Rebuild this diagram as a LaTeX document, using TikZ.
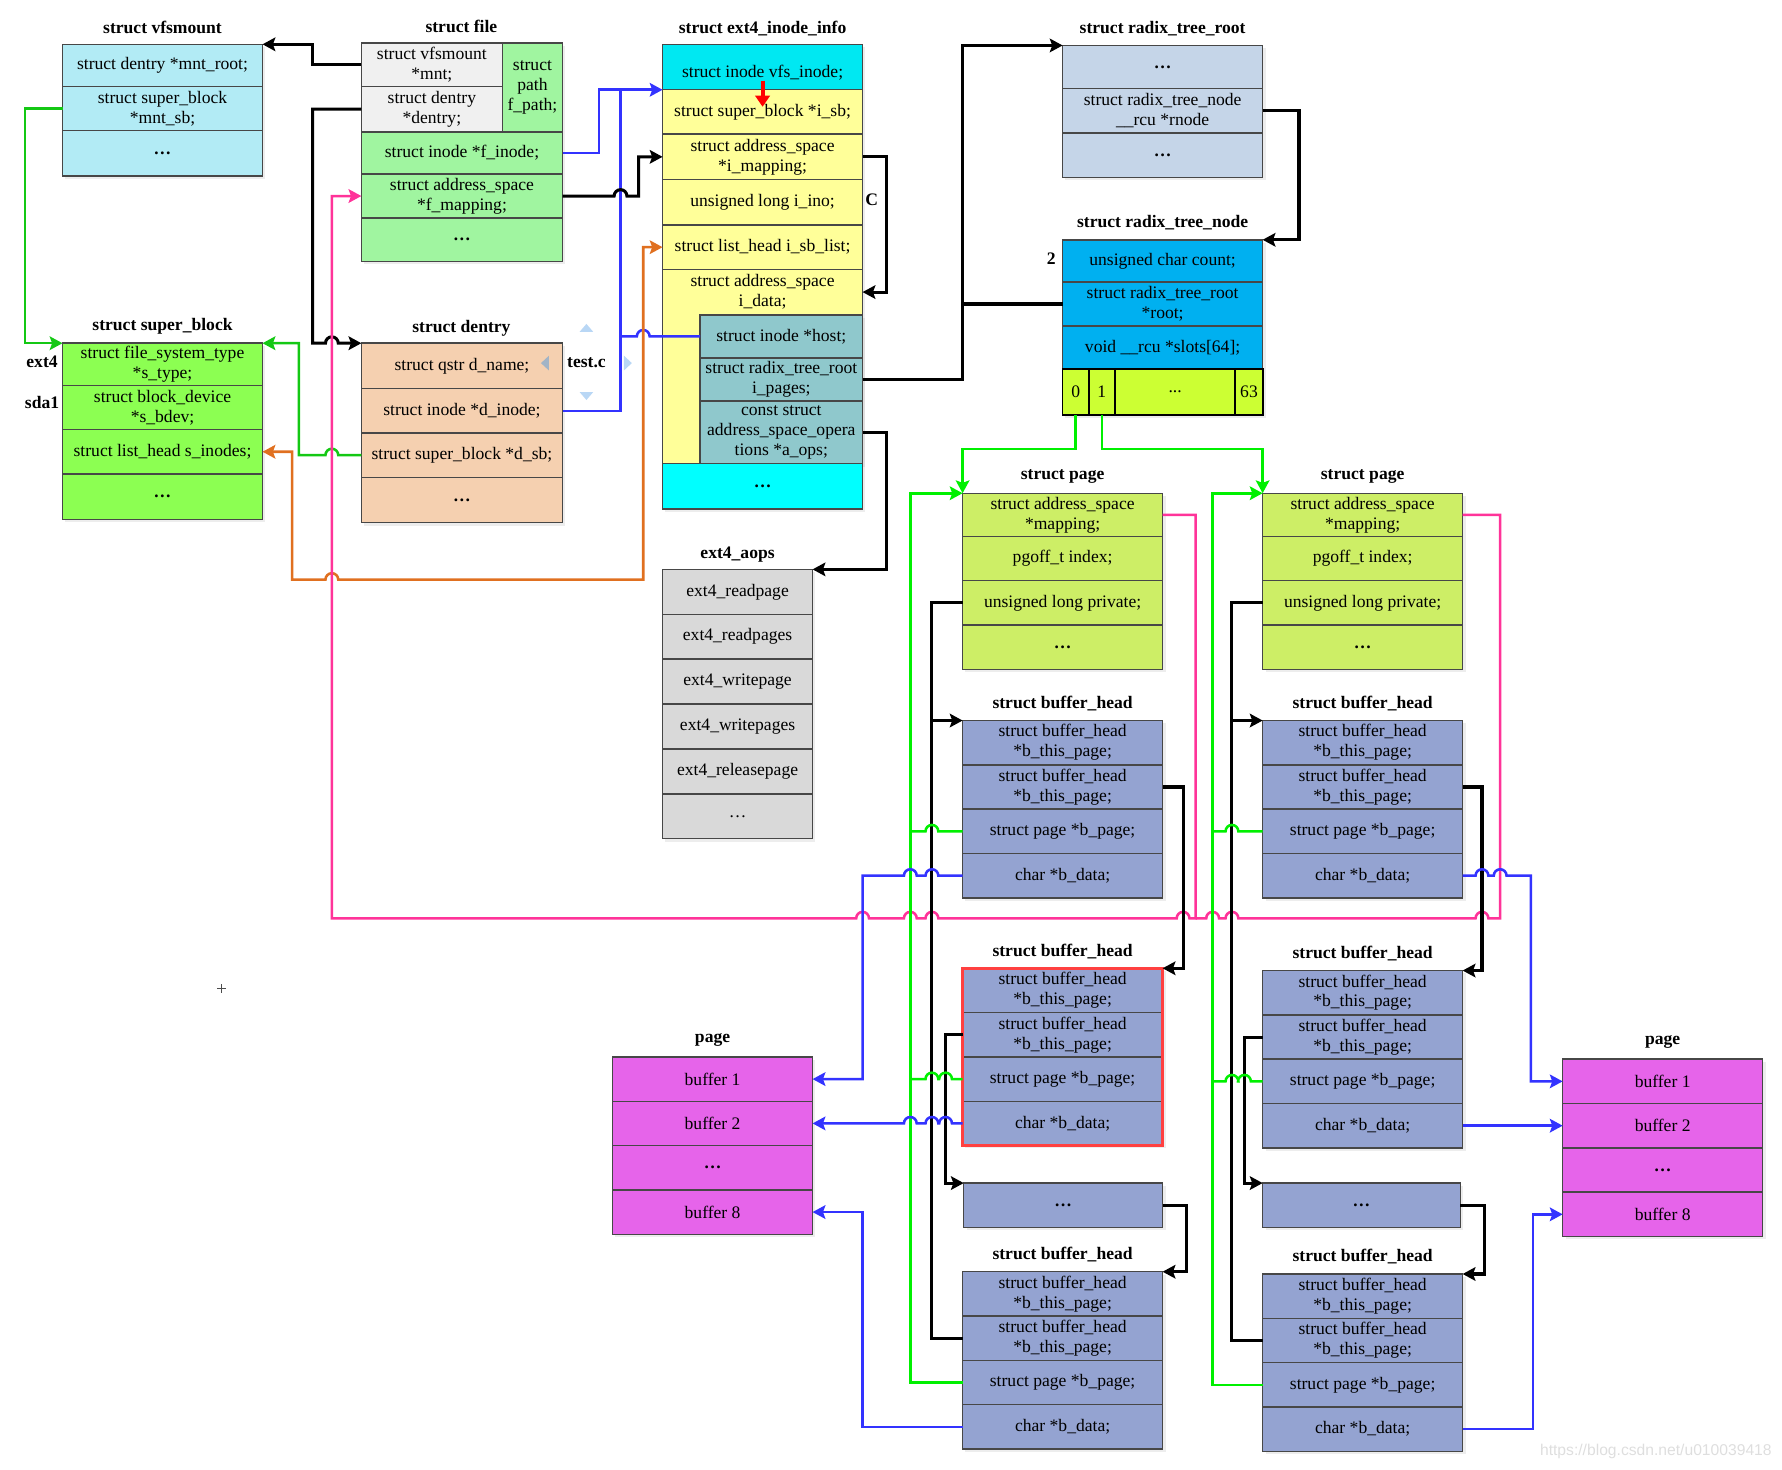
\documentclass[tikz,border=0pt]{standalone}
\usepackage{fontspec}
\setmainfont{Liberation Serif}
\newfontfamily\wmfont{Liberation Sans}
\usetikzlibrary{arrows.meta,shadows}

\definecolor{vfsc}{RGB}{178,235,245}
\definecolor{flgray}{RGB}{240,240,240}
\definecolor{flgrn}{RGB}{160,245,160}
\definecolor{sbgrn}{RGB}{140,255,82}
\definecolor{dentc}{RGB}{245,208,176}
\definecolor{inocyan}{RGB}{0,232,242}
\definecolor{inocyan2}{RGB}{0,255,255}
\definecolor{inoyel}{RGB}{255,255,153}
\definecolor{inoteal}{RGB}{143,200,204}
\definecolor{rtroot}{RGB}{197,213,232}
\definecolor{rtnode}{RGB}{0,176,240}
\definecolor{slotc}{RGB}{204,255,51}
\definecolor{aopsc}{RGB}{217,217,217}
\definecolor{pagec}{RGB}{205,238,102}
\definecolor{bhc}{RGB}{148,163,209}
\definecolor{bufc}{RGB}{230,100,234}
\definecolor{lnblue}{RGB}{51,51,255}
\definecolor{lngreen}{RGB}{20,200,20}
\definecolor{lnlime}{RGB}{0,240,0}
\definecolor{lnpink}{RGB}{255,51,153}
\definecolor{lnorange}{RGB}{224,112,32}
\definecolor{lnred}{RGB}{255,64,64}
\definecolor{hint}{RGB}{185,215,245}

% one field of a struct: name, x, y, width, height, style, text
\newcommand{\fld}[7]{\node[cell,#6,minimum width=#4*0.025cm,minimum height=#5*0.025cm] (#1) at ({#2+#4/2},{#3+#5/2}) {#7};}
% line jumps over a vertical line
\newcommand{\hopR}[2]{-- ([xshift=-4pt]#1,#2) arc[start angle=180,end angle=0,radius=4pt]}
\newcommand{\hopL}[2]{-- ([xshift=4pt]#1,#2) arc[start angle=0,end angle=180,radius=4pt]}
\newcommand{\mdots}{\textbf{\ldots}}

\begin{document}
\begin{tikzpicture}[x=0.025cm,y=-0.025cm,
                    font=\fontsize{11}{12.5}\selectfont,
                    >={Stealth[length=8pt,width=8.5pt,inset=1.5pt]},
                    cell/.style={draw=black!72, line width=0.9pt, align=center, inner sep=1pt, outer sep=0pt,
                                 drop shadow={shadow xshift=1.8pt, shadow yshift=-1.8pt, opacity=0.14}},
                    ttl/.style={font=\fontsize{11}{12.5}\selectfont\bfseries},
                    vfsbox/.style={fill=vfsc}, flgrey/.style={fill=flgray}, flbox/.style={fill=flgrn},
                    sbbox/.style={fill=sbgrn}, debox/.style={fill=dentc},
                    incyan/.style={fill=inocyan}, inyel/.style={fill=inoyel}, inteal/.style={fill=inoteal},
                    rrbox/.style={fill=rtroot}, rnbox/.style={fill=rtnode},
                    slotbox/.style={fill=slotc, draw=black, line width=1.1pt},
                    aopsbox/.style={fill=aopsc}, pgbox/.style={fill=pagec},
                    bhbox/.style={fill=bhc}, bufbox/.style={fill=bufc},
                    blk/.style={draw=black, line width=1.9pt},
                    blu/.style={draw=lnblue, line width=1.6pt},
                    grn/.style={draw=lngreen, line width=1.6pt},
                    lim/.style={draw=lnlime, line width=1.6pt},
                    pnk/.style={draw=lnpink, line width=1.6pt},
                    org/.style={draw=lnorange, line width=1.6pt}
                ]
\useasboundingbox (0,0) rectangle (1568,1293);

% struct vfsmount
\node[ttl] (vfs-t) at (143,24) {struct vfsmount};
\fld{vfs1}{55}{39}{176}{37}{vfsbox}{struct dentry *mnt\_root;}
\fld{vfs2}{55}{76}{176}{39}{vfsbox}{struct super\_block\\*mnt\_sb;}
\fld{vfs3}{55}{115}{176}{40}{vfsbox}{\mdots}

% struct file
\node[ttl] (fl-t) at (406,23) {struct file};
\fld{fl1}{318}{38}{124}{38}{flgrey}{struct vfsmount\\*mnt;}
\fld{fl2}{318}{76}{124}{40}{flgrey}{struct dentry\\*dentry;}
\fld{flp}{442}{38}{53}{78}{flbox}{struct\\path\\f\_path;}
\fld{fl3}{318}{116}{177}{37}{flbox}{struct inode *f\_inode;}
\fld{fl4}{318}{153}{177}{39}{flbox}{struct address\_space\\*f\_mapping;}
\fld{fl5}{318}{192}{177}{38}{flbox}{\mdots}

% struct super_block
\node[ttl] (sb-t) at (143,287) {struct super\_block};
\fld{sb1}{55}{302}{176}{37}{sbbox}{struct file\_system\_type\\*s\_type;}
\fld{sb2}{55}{339}{176}{39}{sbbox}{struct block\_device\\*s\_bdev;}
\fld{sb3}{55}{378}{176}{39}{sbbox}{struct list\_head s\_inodes;}
\fld{sb4}{55}{417}{176}{40}{sbbox}{\mdots}
\node[ttl] (ext4) at (37,318) {ext4};
\node[ttl] (sda1) at (37,354) {sda1};

% struct dentry
\node[ttl] (de-t) at (406,289) {struct dentry};
\fld{de1}{318}{302}{177}{40}{debox}{struct qstr d\_name;}
\fld{de2}{318}{342}{177}{39}{debox}{struct inode *d\_inode;}
\fld{de3}{318}{381}{177}{39}{debox}{struct super\_block *d\_sb;}
\fld{de4}{318}{420}{177}{40}{debox}{\mdots}
\node[ttl] (testc) at (516,319) {test.c};
\fill[hint] (510,292) -- (522,292) -- (516,285) -- cycle;
\fill[hint!60!gray] (483,313) -- (483,326) -- (476,319.5) -- cycle;
\fill[hint] (510,345) -- (522,345) -- (516,352) -- cycle;
\fill[hint] (549,313) -- (549,326) -- (556,319.5) -- cycle;

% struct ext4_inode_info
\node[ttl] (in-t) at (671,25) {struct ext4\_inode\_info};
\fld{in1}{583}{39}{176}{40}{incyan,text height=13pt,text depth=0pt}{struct inode vfs\_inode;}
\fld{in2}{583}{79}{176}{39}{inyel}{struct super\_block *i\_sb;}
\fld{in3}{583}{118}{176}{40}{inyel}{struct address\_space\\*i\_mapping;}
\fld{in4}{583}{158}{176}{40}{inyel}{unsigned long i\_ino;}
\fld{in5}{583}{198}{176}{39}{inyel}{struct list\_head i\_sb\_list;}
\fld{in6}{583}{237}{176}{171}{inyel}{}
\node[align=center] (in6t) at (671,257) {struct address\_space\\i\_data;};
\fld{in7}{616}{277}{143}{38}{inteal}{struct inode *host;}
\fld{in8}{616}{315}{143}{38}{inteal}{struct radix\_tree\_root\\i\_pages;}
\fld{in9}{616}{353}{143}{55}{inteal}{const struct\\address\_space\_opera\\tions *a\_ops;}
\fld{in10}{583}{408}{176}{40}{fill=inocyan2}{\mdots}
\node[ttl] (lblC) at (767,176) {C};
\coordinate (idata) at (759,257);
\coordinate (ra1) at (671,71);
\coordinate (ra2) at (671,94);
\draw[red, line width=2.6pt, -{Triangle[length=7pt,width=9pt]}] (ra1) -- (ra2);

% struct radix_tree_root
\node[ttl] (rr-t) at (1023,25) {struct radix\_tree\_root};
\fld{rr1}{935}{40}{176}{38}{rrbox}{\mdots}
\fld{rr2}{935}{78}{176}{39}{rrbox}{struct radix\_tree\_node\\\_\_rcu *rnode}
\fld{rr3}{935}{117}{176}{39}{rrbox}{\mdots}

% struct radix_tree_node
\node[ttl] (rn-t) at (1023,196) {struct radix\_tree\_node};
\fld{rn1}{935}{211}{176}{37}{rnbox}{unsigned char count;}
\fld{rn2}{935}{248}{176}{39}{rnbox}{struct radix\_tree\_root\\*root;}
\fld{rn3}{935}{287}{176}{38}{rnbox}{void \_\_rcu *slots[64];}
\fld{s0}{935}{325}{23}{40}{slotbox}{0}
\fld{s1}{958}{325}{23}{40}{slotbox}{1}
\fld{sdots}{981}{325}{106}{40}{slotbox}{...}
\fld{s63}{1087}{325}{24}{40}{slotbox}{63}
\node[ttl] (lbl2) at (925,228) {2};

% ext4_aops
\node[ttl] (ax-t) at (649,488) {ext4\_aops};
\foreach \t [count=\i] in {ext4\_readpage, ext4\_readpages, ext4\_writepage, ext4\_writepages, ext4\_releasepage, \ldots}{
  \fld{ax\i}{583}{501+(\i-1)*39.5}{132}{39.5}{aopsbox}{\t}
}

% struct page
\foreach \nm/\x in {pgA/847, pgB/1111}{
  \node[ttl] (\nm-t) at (\x+88,419) {struct page};
  \fld{\nm-1}{\x}{434}{176}{38}{pgbox}{struct address\_space\\*mapping;}
  \fld{\nm-2}{\x}{472}{176}{39}{pgbox}{pgoff\_t index;}
  \fld{\nm-3}{\x}{511}{176}{39}{pgbox}{unsigned long private;}
  \fld{\nm-4}{\x}{550}{176}{39}{pgbox}{\mdots}
}

% struct buffer_head
\foreach \nm/\x/\y in {bhA/847/634, bhB/847/852, bhC/847/1119, bhD/1111/634, bhE/1111/854, bhF/1111/1121}{
  \node[ttl] (\nm-t) at (\x+88,\y-15) {struct buffer\_head};
  \fld{\nm-1}{\x}{\y}{176}{39}{bhbox}{struct buffer\_head\\*b\_this\_page;}
  \fld{\nm-2}{\x}{\y+39}{176}{39}{bhbox}{struct buffer\_head\\*b\_this\_page;}
  \fld{\nm-3}{\x}{\y+78}{176}{39}{bhbox}{struct page *b\_page;}
  \fld{\nm-4}{\x}{\y+117}{176}{39}{bhbox}{char *b\_data;}
}
\draw[lnred, line width=2pt] (bhB-1.north west) rectangle (bhB-4.south east);
\fld{dA}{848}{1041}{175}{39}{bhbox}{\mdots}
\fld{dB}{1111}{1041}{174}{39}{bhbox}{\mdots}

% page buffers
\foreach \nm/\x/\y in {pbA/539/930, pbB/1375/932}{
  \node[ttl] (\nm-t) at (\x+88,\y-15) {page};
  \fld{\nm-1}{\x}{\y}{176}{39}{bufbox}{buffer 1}
  \fld{\nm-2}{\x}{\y+39}{176}{39}{bufbox}{buffer 2}
  \fld{\nm-3}{\x}{\y+78}{176}{39}{bufbox}{\mdots}
  \fld{\nm-4}{\x}{\y+117}{176}{39}{bufbox}{buffer 8}
}

% file, dentry, super_block links
\draw[blk,->] (fl1.west) -- (275,57) |- (vfs1.north east);
\draw[blk,->] (fl2.west) -- (275,96) -- (275,302) \hopR{292}{302} -- (de1.north west);
\draw[grn,->] (vfs2.west) -- (22,95.5) |- (sb1.north west);
\draw[grn,->] (de3.west) \hopL{292}{400.5} -- (263,400.5) |- (sb1.north east);
\draw[blu,->] (fl3.east) -- (527,134.5) |- (in1.south west);
\draw[blu] (de2.east) -| (546,79);
\draw[blu] (in7.west) \hopL{566}{296} -- (546,296);
\draw[blk,->] (fl4.east) \hopR{546}{172.5} -- (562,172.5) |- (in3.west);
\draw[org,<->] (sb3.east) -- (257,397.5) -- (257,510) \hopR{292}{510} -- (566,510) |- (in5.west);

% inode, radix tree, aops links
\draw[blk,->] (in3.east) -- (780,138) |- (idata);
\draw[blk,->] (in8.east) -- (847,334) |- (rr1.north west);
\draw[blk] (rn2.west) -- (847,267.5);
\draw[blk,->] (rr2.east) -- (1143,97.5) |- (rn1.north east);
\draw[blk,->] (in9.east) -- (780,380.5) |- (ax1.north east);
\draw[lim,->] (s0.south) -- (946.5,395) -| (pgA-1.north west);
\draw[lim,->] (s1.south) -- (969.5,395) -| (pgB-1.north west);

% page->mapping back to file
\draw[pnk,->] (pgA-1.east) -- (1052,453) -- (1052,808) \hopL{1041}{808} \hopL{820}{808} \hopL{801}{808} \hopL{759}{808} -- (292,808) |- (fl4.west);
\draw[pnk] (pgB-1.east) -- (1320,453) -- (1320,808) \hopL{1304}{808} \hopL{1084}{808} \hopL{1067}{808} -- (1052,808);

% buffer_head ring, left
\draw[blk,->] (pgA-3.west) -- (820,530.5) |- (bhA-1.north west);
\draw[blk] (bhC-2.west) -| (820,634);
\draw[blk,->] (bhA-2.east) -- (1041,692.5) |- (bhB-1.north east);
\draw[blk,->] (bhB-2.west) -- (832,910.5) |- (dA.north west);
\draw[blk,->] (dA.east) -- (1044,1060.5) |- (bhC-1.north east);
\draw[lim,->] (bhC-3.west) -- (801,1216.5) |- (pgA-1.north west);
\draw[lim] (bhA-3.west) \hopL{820}{731.5} -- (801,731.5);
\draw[lim] (bhB-3.west) \hopL{832}{949.5} \hopL{820}{949.5} -- (801,949.5);
\draw[blu,->] (bhA-4.west) \hopL{820}{770.5} \hopL{801}{770.5} -- (759,770.5) |- (pbA-1.east);
\draw[blu,->] (bhB-4.west) \hopL{832}{988.5} \hopL{820}{988.5} \hopL{801}{988.5} -- (pbA-2.east);
\draw[blu,->] (bhC-4.west) -- (759,1255.5) |- (pbA-4.east);

% buffer_head ring, right
\draw[blk,->] (pgB-3.west) -- (1084,530.5) |- (bhD-1.north west);
\draw[blk] (bhF-2.west) -| (1084,634);
\draw[blk,->] (bhD-2.east) -- (1304,692.5) |- (bhE-1.north east);
\draw[blk,->] (bhE-2.west) -- (1095,912.5) |- (dB.north west);
\draw[blk,->] (dB.east) -- (1306,1060.5) |- (bhF-1.north east);
\draw[lim,->] (bhF-3.west) -- (1067,1218.5) |- (pgB-1.north west);
\draw[lim] (bhD-3.west) \hopL{1084}{731.5} -- (1067,731.5);
\draw[lim] (bhE-3.west) \hopL{1095}{951.5} \hopL{1084}{951.5} -- (1067,951.5);
\draw[blu,->] (bhD-4.east) \hopR{1304}{770.5} \hopR{1320}{770.5} -- (1347,770.5) |- (pbB-1.west);
\draw[blu,->] (bhE-4.east) -- (pbB-2.west);
\draw[blu,->] (bhF-4.east) -- (1349,1257.5) |- (pbB-4.west);

\draw[black!70, line width=0.6pt] (191,870) -- (199,870) (195,866) -- (195,874);
\node[font=\wmfont\fontsize{9.8}{11}\selectfont, text=black!13] (wm) at (1457,1277) {https://blog.csdn.net/u010039418};
\end{tikzpicture}
\end{document}
